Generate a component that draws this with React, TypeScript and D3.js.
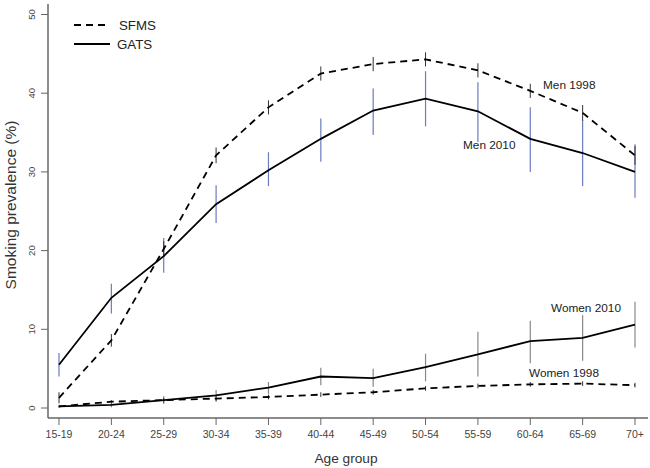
import React from "react";
import * as d3 from "d3";

const ageGroups = ["15-19","20-24","25-29","30-34","35-39","40-44","45-49","50-54","55-59","60-64","65-69","70+"];
const yTicks = [0, 10, 20, 30, 40, 50];

const men1998 = [1.3, 8.6, 20.2, 32.1, 38.2, 42.5, 43.7, 44.3, 42.9, 40.3, 37.5, 32.1];
const men1998Lo = [0.6, 7.8, 19.2, 31.1, 37.3, 41.6, 42.8, 43.4, 42.0, 39.4, 36.5, 30.9];
const men1998Hi = [2.0, 9.4, 21.2, 33.1, 39.1, 43.4, 44.6, 45.2, 43.8, 41.2, 38.5, 33.3];

const men2010 = [5.5, 14.0, 19.3, 25.9, 30.2, 34.2, 37.8, 39.3, 37.7, 34.2, 32.4, 30.0];
const men2010Lo = [4.0, 12.0, 17.2, 23.5, 28.2, 31.3, 34.7, 35.8, 33.8, 30.0, 28.2, 26.7];
const men2010Hi = [7.0, 15.8, 21.6, 28.3, 32.5, 36.8, 40.6, 42.8, 41.4, 38.2, 36.6, 33.5];

const women2010 = [0.2, 0.4, 1.0, 1.6, 2.6, 4.0, 3.8, 5.2, 6.8, 8.5, 8.9, 10.6];
const women2010Lo = [0.0, 0.1, 0.5, 0.8, 1.8, 2.9, 2.7, 3.4, 4.0, 5.7, 6.0, 7.7];
const women2010Hi = [0.4, 0.7, 1.5, 2.3, 3.3, 5.1, 5.0, 6.9, 9.7, 11.1, 11.8, 13.5];

const women1998 = [0.2, 0.8, 1.0, 1.2, 1.4, 1.7, 2.0, 2.5, 2.8, 3.0, 3.1, 2.9];
const women1998Lo = [0.1, 0.6, 0.7, 0.9, 1.1, 1.4, 1.7, 2.2, 2.5, 2.7, 2.8, 2.6];
const women1998Hi = [0.3, 1.0, 1.3, 1.5, 1.7, 2.0, 2.3, 2.8, 3.1, 3.3, 3.4, 3.2];

const W = 650, H = 468;
const font = "Liberation Sans, Arial, Helvetica, sans-serif";

export default function App() {
  const x = d3.scalePoint<string>().domain(ageGroups).range([59, 635]);
  const y = d3.scaleLinear().domain([0, 50]).range([408, 14.5]);
  const line = d3.line<number>().x((_, i) => x(ageGroups[i])!).y((d) => y(d));

  const bars = (lo: number[], hi: number[], color: string, key: string, w = 1.2) =>
    lo.map((l, i) => (
      <line key={key + i} x1={x(ageGroups[i])} x2={x(ageGroups[i])} y1={y(l)} y2={y(hi[i])} stroke={color} strokeWidth={w} />
    ));

  const axisColor = "#666";
  return (
    <div style={{ position: "fixed", left: 0, top: 0, width: W, height: H, overflow: "hidden" }}>
      <svg width={W} height={H} style={{ display: "block", background: "#fff" }} fontFamily={font}>
        {/* axes */}
        <line x1={48} x2={48} y1={4} y2={418} stroke={axisColor} strokeWidth={1.5} />
        <line x1={48} x2={648} y1={418} y2={418} stroke={axisColor} strokeWidth={1.5} />
        {yTicks.map((t) => (
          <g key={"yt" + t}>
            <line x1={41} x2={48} y1={y(t)} y2={y(t)} stroke={axisColor} strokeWidth={1} />
            <text transform={`translate(34.5,${y(t)}) rotate(-90)`} textAnchor="middle" fontSize={9.5} fill="#444">{t}</text>
          </g>
        ))}
        {ageGroups.map((g) => (
          <g key={"xt" + g}>
            <line x1={x(g)} x2={x(g)} y1={418} y2={425} stroke={axisColor} strokeWidth={1} />
            <text x={x(g)} y={437.5} textAnchor="middle" fontSize={10.5} fill="#444">{g}</text>
          </g>
        ))}
        <text x={346} y={463} textAnchor="middle" fontSize={13.7} fill="#333">Age group</text>
        <text transform="translate(16,205) rotate(-90)" textAnchor="middle" fontSize={15.5} fill="#333">Smoking prevalence (%)</text>

        {/* error bars */}
        {bars(men2010Lo, men2010Hi, "#6a7cc0", "m10")}
        {bars(women2010Lo, women2010Hi, "#888", "w10")}
        {bars(men1998Lo, men1998Hi, "#333", "m98", 1)}
        {bars(women1998Lo, women1998Hi, "#333", "w98", 1)}

        {/* lines */}
        <path d={line(men1998)!} fill="none" stroke="#000" strokeWidth={1.8} strokeDasharray="7,5" />
        <path d={line(women1998)!} fill="none" stroke="#000" strokeWidth={1.8} strokeDasharray="7,5" />
        <path d={line(men2010)!} fill="none" stroke="#000" strokeWidth={1.8} />
        <path d={line(women2010)!} fill="none" stroke="#000" strokeWidth={1.8} />

        {/* labels */}
        <text x={543} y={89} fontSize={11.8} fill="#222">Men 1998</text>
        <text x={463} y={149} fontSize={11.8} fill="#222">Men 2010</text>
        <text x={551} y={312} fontSize={11.8} fill="#222">Women 2010</text>
        <text x={529} y={377} fontSize={11.8} fill="#222">Women 1998</text>

        {/* legend */}
        <line x1={74} x2={110} y1={25} y2={25} stroke="#000" strokeWidth={1.8} strokeDasharray="7,5" />
        <text x={119} y={30} fontSize={13.3} fill="#222">SFMS</text>
        <line x1={74} x2={110} y1={44} y2={44} stroke="#000" strokeWidth={1.8} />
        <text x={117} y={49} fontSize={13.3} fill="#222">GATS</text>
      </svg>
    </div>
  );
}
